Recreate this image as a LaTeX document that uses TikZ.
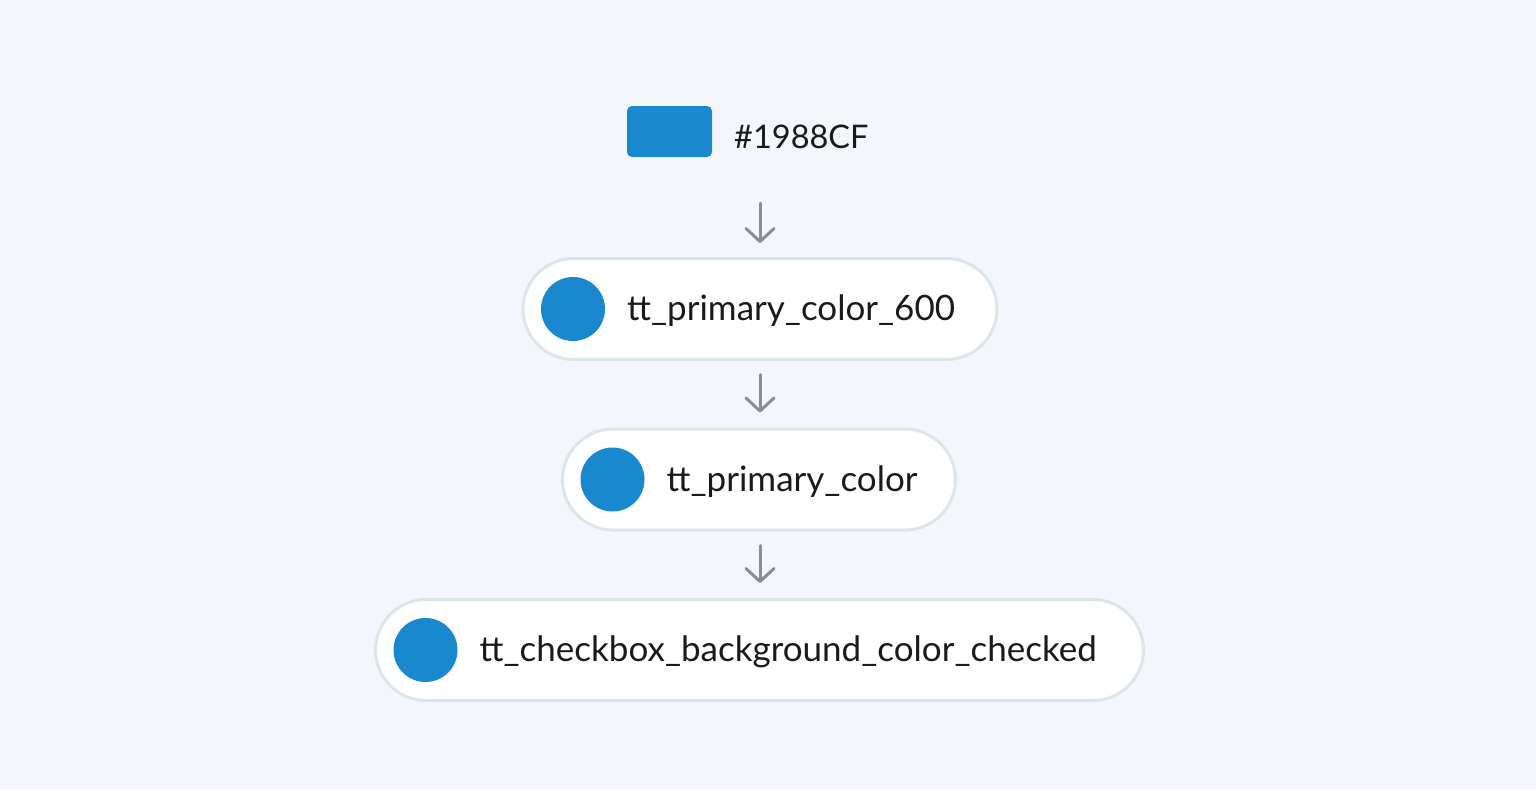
\documentclass[tikz,border=0pt]{standalone}
\usepackage{fontspec}
\setmainfont{Lato}
\usetikzlibrary{arrows.meta,calc}
\definecolor{bgc}{HTML}{F3F7FB}
\definecolor{blu}{HTML}{1988CF}
\definecolor{pillborder}{HTML}{DCE5EC}
\definecolor{arrc}{HTML}{878E95}
\definecolor{txt}{HTML}{1A1A1A}
\tikzset{
  pill/.style={draw=pillborder, line width=3pt, fill=white, minimum height=101pt, rounded corners=50.5pt, inner sep=0pt},
  dot/.style={circle, fill=blu, minimum size=64pt, inner sep=0pt},
  swatch/.style={fill=blu, minimum width=85pt, minimum height=51pt, rounded corners=5pt, inner sep=0pt},
  lbl/.style={anchor=base west, inner sep=0pt, text=txt, font=\fontsize{35}{42}\selectfont},
  hexlbl/.style={anchor=base west, inner sep=0pt, text=txt, font=\fontsize{32.5}{39}\selectfont},
  arr/.style={draw=arrc, line width=3pt, line cap=round, -{Straight Barb[length=13pt, width=28pt, line width=3pt, round]}},
}
\begin{document}
\begin{tikzpicture}[x=1pt,y=-1pt]
\fill[bgc] (0,0) rectangle (1536,790);
\useasboundingbox (0,0) rectangle (1536,790);
\node[swatch] (sw) at (669.5,131.5) {};
\node[hexlbl] (hex) at (734,148) {\#1988CF};
\node[pill, minimum width=474pt] (p1) at (760,309) {};
\node[dot] (c1) at ($(p1.west)+(51.5,0)$) {};
\node[lbl] (t1) at ($(p1.west)+(105.5,11.5)$) {tt\_primary\_color\_600};
\node[pill, minimum width=393pt] (p2) at (759,479.5) {};
\node[dot] (c2) at ($(p2.west)+(51.5,0)$) {};
\node[lbl] (t2) at ($(p2.west)+(105.5,11.5)$) {tt\_primary\_color};
\node[pill, minimum width=768pt] (p3) at (759.5,650) {};
\node[dot] (c3) at ($(p3.west)+(51.5,0)$) {};
\node[lbl] (t3) at ($(p3.west)+(105.5,11.5)$) {tt\_checkbox\_background\_color\_checked};
\draw[arr, shorten <=46pt, shorten >=14pt] (sw.south -| p1.north) -- (p1.north);
\draw[arr, shorten <=13.5pt, shorten >=15pt] (p1.south) -- (p2.north -| p1.south);
\draw[arr, shorten <=14pt, shorten >=15pt] (p2.south -| p1.south) -- (p3.north -| p1.south);
\end{tikzpicture}
\end{document}
